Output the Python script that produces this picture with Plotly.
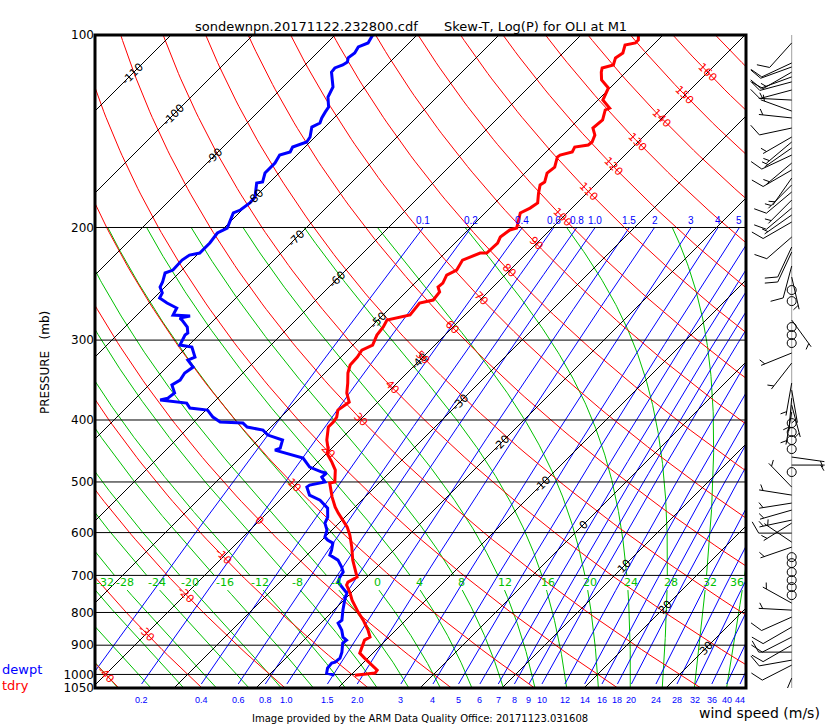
import numpy as np
import plotly.graph_objects as go

# ------------------------------------------------------------------
# Sounding values (pressure mb, temperature degC)
# ------------------------------------------------------------------
tdry_p = [100.0, 101.8, 102.9, 103.7, 106.7, 108.6, 111.4, 112.6, 114.3, 117.6, 121.0, 123.2, 126.4,
          130.1, 131.0, 135.8, 138.8, 139.8, 143.4, 147.0, 148.6, 149.7, 152.4, 154.1, 155.2, 160.9,
          164.4, 169.8, 171.6, 176.7, 183.1, 186.5, 189.8, 196.1, 200.4, 201.8, 207.0, 211.5, 219.3,
          219.3, 224.9, 233.1, 237.4, 244.3, 247.8, 252.3, 259.7, 262.5, 274.1, 279.1, 286.2, 294.6,
          305.4, 311.0, 318.9, 328.2, 337.8, 350.2, 363.0, 375.0, 381.8, 386.0, 395.8, 403.0, 410.3,
          430.0, 445.8, 450.6, 465.5, 479.1, 500.2, 502.0, 528.0, 547.4, 559.3, 588.2, 605.5, 632.2,
          662.5, 704.3, 717.1, 724.9, 746.1, 765.2, 798.9, 822.3, 852.5, 874.2, 883.8, 906.3, 926.1,
          943.0, 967.0, 984.6, 995.2, 998.9, 1002.5]
tdry_t = [-53.0, -52.4, -52.4, -53.4, -52.7, -53.0, -52.4, -53.4, -53.0, -52.0, -50.2, -49.9, -49.4,
          -47.6, -47.9, -47.0, -47.1, -47.2, -46.1, -45.6, -45.7, -47.1, -46.8, -47.9, -48.0, -47.1,
          -47.3, -46.5, -46.7, -45.9, -44.8, -45.1, -45.7, -44.9, -44.3, -44.9, -45.2, -44.8, -44.9,
          -45.7, -47.0, -46.5, -47.1, -46.6, -46.7, -45.9, -45.7, -47.0, -46.7, -48.9, -48.5, -48.3,
          -47.6, -48.3, -48.0, -47.9, -47.2, -46.0, -44.9, -43.5, -43.7, -43.9, -43.2, -43.0, -43.0,
          -41.6, -40.2, -40.0, -38.3, -36.9, -35.5, -36.0, -34.0, -32.4, -31.3, -28.5, -27.2, -25.5,
          -23.8, -21.2, -21.7, -21.5, -20.1, -19.0, -16.8, -15.2, -13.4, -12.3, -12.6, -12.1, -11.6,
          -10.4, -8.7, -7.4, -7.3, -8.8, -9.5]

dewpt_p = [100.0, 101.8, 102.9, 104.4, 106.7, 108.6, 110.2, 111.4, 112.6, 114.3, 120.6, 125.0, 129.6,
           131.9, 134.8, 137.3, 139.3, 144.4, 147.0, 149.7, 152.4, 154.1, 158.6, 164.4, 169.8, 170.4,
           179.2, 183.1, 187.8, 189.8, 196.1, 200.4, 204.0, 211.5, 219.3, 220.9, 224.9, 233.1, 235.6,
           243.4, 247.8, 253.2, 257.9, 262.5, 267.3, 274.1, 275.1, 277.1, 279.1, 286.2, 292.5, 294.6,
           305.4, 307.6, 318.9, 322.4, 330.6, 337.8, 346.5, 352.7, 363.0, 369.7, 372.3, 376.4, 383.2,
           386.0, 395.8, 403.0, 404.5, 410.3, 414.8, 422.3, 430.0, 442.6, 445.8, 458.8, 473.9, 482.5,
           484.3, 491.3, 500.2, 505.7, 509.3, 524.2, 533.8, 543.4, 549.4, 567.4, 579.8, 594.7, 609.8,
           616.5, 623.1, 639.1, 650.7, 662.5, 679.4, 691.7, 704.3, 717.1, 732.8, 746.1, 765.2, 793.2,
           822.3, 831.2, 852.5, 874.2, 883.8, 893.3, 922.7, 943.0, 956.6, 960.0, 977.5, 995.2, 1002.5]
dewpt_t = [-85.4, -85.1, -85.0, -85.7, -85.4, -85.6, -85.2, -85.4, -86.0, -85.9, -83.9, -83.3, -82.0,
           -81.8, -81.5, -81.1, -81.6, -80.6, -80.4, -81.5, -81.2, -82.1, -81.7, -81.7, -80.9, -81.5,
           -80.0, -79.9, -80.2, -80.7, -80.0, -79.6, -80.2, -79.9, -79.9, -80.9, -81.2, -81.1, -81.7,
           -80.9, -80.6, -79.6, -79.3, -77.8, -76.0, -75.6, -73.4, -74.4, -73.9, -72.4, -71.6, -71.7,
           -71.1, -69.4, -67.8, -68.3, -66.8, -67.1, -66.8, -67.2, -65.9, -66.1, -66.8, -63.2, -62.2,
           -59.8, -58.3, -56.8, -53.9, -52.9, -50.6, -49.4, -47.0, -46.3, -46.7, -42.3, -40.4, -38.3,
           -37.6, -37.7, -36.7, -38.2, -38.3, -37.0, -35.1, -33.9, -33.2, -32.1, -31.7, -30.6, -30.0,
           -29.3, -28.3, -27.6, -27.2, -25.6, -24.3, -23.5, -23.3, -22.9, -21.6, -20.5, -19.9, -18.9,
           -17.8, -17.9, -16.6, -15.6, -14.8, -14.9, -13.9, -13.4, -13.5, -13.8, -13.7, -13.2, -12.0]

# wind: pressure (mb), direction (deg, from), speed (m/s)
wind_p = [102.9, 110.6, 112.2, 114.3, 116.3, 118.4, 121.9, 126.4, 131.5, 134.8, 139.8, 144.4, 147.0,
          150.2, 154.1, 158.6, 162.6, 167.4, 171.6, 176.0, 181.2, 186.5, 191.2, 196.1, 207.0, 214.6,
          218.5, 229.8, 239.1, 250.5, 260.7, 279.1, 286.2, 294.6, 303.2, 314.3, 325.9, 350.2, 359.2,
          369.7, 379.1, 388.7, 404.5, 417.8, 430.0, 444.2, 457.1, 470.5, 482.5, 509.3, 524.2, 539.5,
          553.3, 573.6, 579.8, 601.1, 620.9, 632.2, 655.4, 669.7, 691.7, 712.0, 730.1, 751.5, 773.4,
          793.2, 813.4, 843.3, 874.2, 899.8, 922.7, 949.8, 967.0, 1013.4]
wind_dir = [222, 245, 250, 240, 250, 255, 255, 273, 290, 276, 258, 240, 230, 235, 245, 230, 240, 215,
            225, 230, 225, 230, 235, 240, 229, 205, 205, 195, 167, 0, 0, 144, 0, 0, 0, 248, 218, 190,
            170, 185, 165, 190, 0, 0, 0, 0, 98, 90, 0, 316, 279, 261, 254, 258, 238, 270, 304, 251,
            0, 0, 0, 0, 0, 0, 299, 273, 246, 240, 243, 240, 270, 260, 243, 203]
wind_spd = [5, 5, 5, 7.5, 5, 5, 5, 2.5, 2.5, 2.5, 5, 2.5, 2.5, 2.5, 5, 2.5, 5, 2.5, 2.5, 5, 2.5, 5,
            2.5, 5, 5, 5, 5, 5, 2.5, 0, 0, 2.5, 0, 0, 0, 2.5, 2.5, 2.5, 2.5, 2.5, 2.5, 2.5, 0, 0, 0,
            0, 2.5, 2.5, 0, 2.5, 2.5, 2.5, 2.5, 2.5, 2.5, 5, 2.5, 2.5, 0, 0, 0, 0, 0, 0, 2.5, 2.5, 5,
            5, 5, 5, 5, 5, 5, 2.5]

# ------------------------------------------------------------------
# Diagram background definitions
# ------------------------------------------------------------------
pressure_ticks = [100, 200, 300, 400, 500, 600, 700, 800, 900, 1000, 1050]
isobar_levels = [200, 300, 400, 500, 600, 700, 800, 900, 1000]
isotherm_temps = list(range(-160, 50, 10))
isotherm_label_temps = list(range(-110, 40, 10))
dry_thetas = list(range(-60, 210, 10))
dry_label_thetas = list(range(-40, 170, 10))
moist_thetaw = list(range(-40, 40, 4))
moist_label_thetaw = list(range(-32, 40, 4))
mixing_ratios = [0.1, 0.2, 0.4, 0.6, 0.8, 1.0, 1.5, 2, 3, 4, 5, 6, 7, 8, 9, 10, 12, 14, 16, 18, 20,
                 24, 28, 32, 36, 40, 44]
mr_top_text = ['0.1', '0.2', '0.4', '0.6', '0.8', '1.0', '1.5', '2', '3', '4', '5', '6', '7', '8', '9',
               '10', '12', '14', '16', '18', '20', '24', '28', '32', '36', '40', '44']
mr_bottom_text = ['0.1', '0.2', '0.4', '0.6', '0.8', '1.0', '1.5', '2.0', '3', '4', '5', '6', '7', '8',
                  '9', '10', '12', '14', '16', '18', '20', '24', '28', '32', '36', '40', '44']

P_BOT, P_TOP = 1050.0, 100.0
SKEW = 33.867
X_MIN, X_MAX = -39.634, 39.756
RED, GREEN, BLUE, BLACK = '#ff0000', '#00c000', '#0000ff', '#000000'
FONT = 'DejaVu Sans'
NARROW = 'Liberation Sans'


def skx(T, P):
    return np.asarray(T, float) + SKEW * np.log(P_BOT / np.asarray(P, float))


def dewpoint_from_w(w, P):
    e = w * P / (622.0 + w)
    a = np.log(e / 6.112)
    return 243.5 * a / (17.67 - a)


def moist_dTdP(T, P):
    Tc = T - 273.15
    es = 6.112 * np.exp(17.67 * Tc / (Tc + 243.5))
    rs = 0.622 * es / (P - es)
    Lv, Rd, Cp, eps = 2.501e6, 287.04, 1005.7, 0.622
    return (Rd * T + Lv * rs) / (P * (Cp + Lv * Lv * rs * eps / (Rd * T * T)))


def integrate(T0, path):
    out = [T0.copy()]
    T = T0.copy()
    for i in range(len(path) - 1):
        p0, h = path[i], path[i + 1] - path[i]
        k1 = moist_dTdP(T, p0)
        k2 = moist_dTdP(T + 0.5 * h * k1, p0 + 0.5 * h)
        k3 = moist_dTdP(T + 0.5 * h * k2, p0 + 0.5 * h)
        k4 = moist_dTdP(T + h * k3, p0 + h)
        T = T + h * (k1 + 2 * k2 + 2 * k3 + k4) / 6.0
        out.append(T.copy())
    return np.array(out)


fig = go.Figure()


def add_lines(xs, ys, color, width=1.0, xaxis='x'):
    fig.add_trace(go.Scatter(x=xs, y=ys, mode='lines', line=dict(color=color, width=width),
                             hoverinfo='skip', showlegend=False, xaxis=xaxis, yaxis='y',
                             connectgaps=False))


# moist adiabats
T0 = np.array(moist_thetaw, float) + 273.15
p_up = np.arange(1000.0, 199.9, -2.0)
p_dn = np.arange(1000.0, 1050.1, 2.0)
T_up = integrate(T0, p_up)
T_dn = integrate(T0, p_dn)
p_all = np.concatenate([p_dn[::-1], p_up[1:]])
T_all = np.concatenate([T_dn[::-1], T_up[1:]], axis=0) - 273.15
xs, ys = [], []
label_pos = {}
for j, tw in enumerate(moist_thetaw):
    for p, t in zip(p_all, T_all[:, j]):
        if 700.0 < p < 738.0:
            if xs and xs[-1] is not None:
                xs.append(None); ys.append(None)
            continue
        xs.append(float(skx(t, p))); ys.append(float(p))
    xs.append(None); ys.append(None)
    t718 = np.interp(718.0, p_all[::-1], T_all[::-1, j])
    label_pos[tw] = float(skx(t718, 718.0))
add_lines(xs, ys, GREEN)

# mixing ratio lines
pm = np.geomspace(1035.0, 200.0, 40)
xs, ys = [], []
for w in mixing_ratios:
    td = dewpoint_from_w(w, pm)
    xs += list(skx(td, pm)) + [None]
    ys += list(pm) + [None]
add_lines(xs, ys, BLUE)

# dry adiabats
pd_ = np.geomspace(1050.0, 100.0, 120)
xs, ys = [], []
for th in dry_thetas:
    t = (th + 273.15) * (pd_ / 1000.0) ** 0.2857 - 273.15
    xs += list(skx(t, pd_)) + [None]
    ys += list(pd_) + [None]
add_lines(xs, ys, RED)

# isotherms
xs, ys = [], []
for T in isotherm_temps:
    xs += [float(skx(T, P_BOT)), float(skx(T, P_TOP)), None]
    ys += [P_BOT, P_TOP, None]
add_lines(xs, ys, BLACK)

# isobars
xs, ys = [], []
for p in isobar_levels:
    xs += [X_MIN, X_MAX, None]
    ys += [p, p, None]
add_lines(xs, ys, BLACK)

# sounding
add_lines(list(skx(dewpt_t, dewpt_p)), dewpt_p, BLUE, 3)
add_lines(list(skx(tdry_t, tdry_p)), tdry_p, RED, 3)

# ---------------- wind barbs ----------------
STAFF_X = 791.7
KY = np.log10(P_BOT / P_TOP) / 653.0
SHAFT, FULL, HALF, GAP, FANG = 33.0, 13.0, 6.5, 4.0, 60.0
add_lines([STAFF_X, STAFF_X], [P_TOP, P_BOT], '#a0a0a0', 1, xaxis='x2')


def bpt(p, dx, dy):
    return STAFF_X + dx, 10 ** (np.log10(p) + dy * KY)


bx, by, calm = [], [], []
for p, d, s in zip(wind_p, wind_dir, wind_spd):
    if s < 1.25:
        calm.append(p)
        continue
    a = np.radians(d - 90.0)
    ux, uy = np.cos(a), np.sin(a)
    fa = np.radians(d - 90.0 + FANG)
    fx, fy = np.cos(fa), np.sin(fa)
    x0, y0 = bpt(p, 0, 0)
    x1, y1 = bpt(p, SHAFT * ux, SHAFT * uy)
    bx += [x0, x1, None]; by += [y0, y1, None]
    nfull = int(s // 5)
    nhalf = 1 if (s - 5 * nfull) >= 2.5 else 0
    pos = SHAFT if nfull > 0 else SHAFT - GAP
    for k in range(nfull + nhalf):
        ln = FULL if k < nfull else HALF
        sx, sy = bpt(p, pos * ux, pos * uy)
        ex, ey = bpt(p, pos * ux + ln * fx, pos * uy + ln * fy)
        bx += [sx, ex, None]; by += [sy, ey, None]
        pos -= GAP
add_lines(bx, by, BLACK, 1, xaxis='x2')
fig.add_trace(go.Scatter(x=[STAFF_X] * len(calm), y=calm, mode='markers', xaxis='x2', yaxis='y',
                         marker=dict(symbol='circle-open', size=9, color=BLACK, line=dict(width=1)),
                         hoverinfo='skip', showlegend=False))

# ---------------- annotations ----------------
ann = []


def PX(x):
    return (x - 95.0) / 745.0


def PY(y):
    return (688.0 - y) / 653.0


# isotherm labels (along the diagonal from the lower-right corner)
for T in isotherm_label_temps:
    u = (X_MAX - T) / (2 * SKEW)
    p = P_BOT * np.exp(-u)
    ann.append(dict(x=float(skx(T, p)), y=float(np.log10(p)), xref='x', yref='y', text=str(T),
                    showarrow=False, textangle=-45, xanchor='center', yanchor='middle',
                    font=dict(family=FONT, size=11, color=BLACK)))
# dry adiabat labels (along the -40 C isotherm)
for th in dry_label_thetas:
    p = 1000.0 * (233.15 / (th + 273.15)) ** (1 / 0.2857)
    ann.append(dict(x=float(skx(-40.0, p)), y=float(np.log10(p)), xref='x', yref='y', text=str(th),
                    showarrow=False, textangle=45, xanchor='center', yanchor='middle',
                    font=dict(family=FONT, size=11, color=RED)))
# moist adiabat labels near 718 mb
for tw in moist_label_thetaw:
    xl = label_pos[tw]
    if xl < X_MIN + 0.3:
        xl, anchor, shift = X_MIN, 'left', 0
    elif xl > X_MAX - 1.0:
        xl, anchor, shift = X_MAX, 'right', -1
    else:
        anchor, shift = 'center', 4
    ann.append(dict(x=xl, y=float(np.log10(718.0)), xref='x', yref='y', text=str(tw),
                    showarrow=False, xshift=shift, xanchor=anchor, yanchor='middle', borderpad=0,
                    font=dict(family=FONT, size=11, color=GREEN)))
# mixing ratio labels
for w, tt, tb in zip(mixing_ratios, mr_top_text, mr_bottom_text):
    xt = float(skx(dewpoint_from_w(w, 200.0), 200.0))
    if X_MIN < xt < X_MAX:
        ann.append(dict(x=xt, y=float(np.log10(200.0)), xref='x', yref='y', text=tt, showarrow=False,
                        yshift=7, xanchor='center', yanchor='middle', borderpad=0,
                        font=dict(family=NARROW, size=10, color=BLUE)))
    xb = float(skx(dewpoint_from_w(w, 1035.0), 1035.0))
    if X_MIN < xb < X_MAX + 1:
        ann.append(dict(x=xb, y=float(np.log10(1050.0)), xref='x', yref='y', text=tb, showarrow=False,
                        yshift=-12, xanchor='center', yanchor='middle', borderpad=0,
                        font=dict(family=NARROW, size=9, color=BLUE)))

ann += [
    dict(x=PX(420), y=PY(27), xref='paper', yref='paper', xanchor='right', yanchor='middle',
         text='sondewnpn.20171122.232800.cdf', showarrow=False,
         font=dict(family=FONT, size=13, color=BLACK)),
    dict(x=PX(442), y=PY(27), xref='paper', yref='paper', xanchor='left', yanchor='middle',
         text='Skew-T, Log(P) for OLI at M1', showarrow=False,
         font=dict(family=FONT, size=13, color=BLACK)),
    dict(x=PX(45), y=PY(363), xref='paper', yref='paper', text='PRESSURE   (mb)', textangle=-90,
         xanchor='center', yanchor='middle', showarrow=False,
         font=dict(family=FONT, size=12, color=BLACK)),
    dict(x=PX(0), y=PY(669), xref='paper', yref='paper', xanchor='left', yanchor='middle',
         text='dewpt', showarrow=False, font=dict(family=FONT, size=13, color=BLUE)),
    dict(x=PX(0), y=PY(685), xref='paper', yref='paper', xanchor='left', yanchor='middle',
         text='tdry', showarrow=False, font=dict(family=FONT, size=13, color=RED)),
    dict(x=PX(420), y=PY(718), xref='paper', yref='paper', xanchor='center', yanchor='middle',
         text='Image provided by the ARM Data Quality Office: 20171123.031608', showarrow=False,
         font=dict(family=FONT, size=10, color=BLACK)),
    dict(x=PX(697), y=PY(713), xref='paper', yref='paper', xanchor='left', yanchor='middle',
         text='wind speed (m/s)', showarrow=False,
         font=dict(family=FONT, size=14, color=BLACK)),
]

fig.update_layout(
    width=840, height=725,
    margin=dict(l=95, r=0, t=35, b=37),
    paper_bgcolor='white', plot_bgcolor='white', showlegend=False,
    xaxis=dict(domain=[0, 651 / 745], range=[X_MIN, X_MAX], visible=False),
    xaxis2=dict(domain=[655 / 745, 1], range=[750, 840], visible=False, anchor='y'),
    yaxis=dict(type='log', range=[np.log10(P_BOT), np.log10(P_TOP)], tickvals=pressure_ticks,
               ticktext=[str(v) for v in pressure_ticks], showgrid=False, zeroline=False, ticks='',
               showline=False, tickfont=dict(family=FONT, size=12, color=BLACK)),
    annotations=ann,
    shapes=[dict(type='rect', xref='x domain', yref='y domain', x0=0, x1=1, y0=0, y1=1,
                 line=dict(color=BLACK, width=3), layer='above')],
)

fig.write_html('out.html')
